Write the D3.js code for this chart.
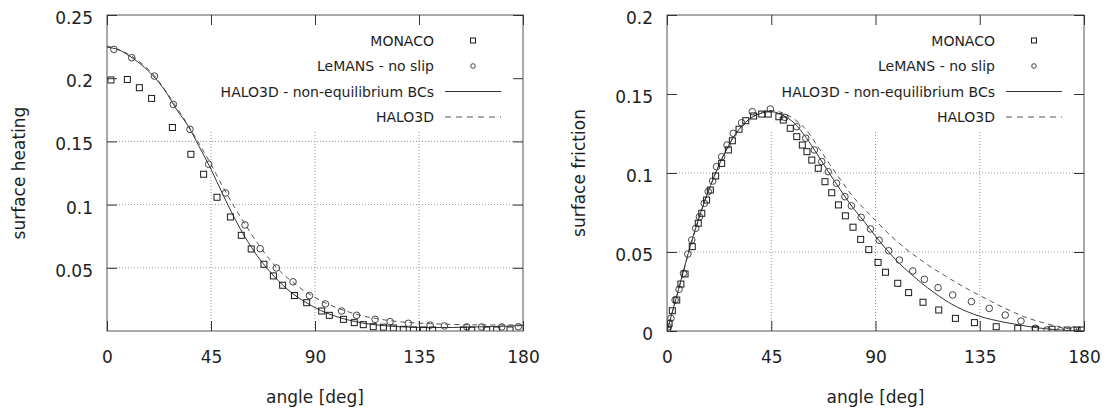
<!DOCTYPE html>
<html>
<head>
<meta charset="utf-8">
<script src="https://cdn.jsdelivr.net/npm/d3@7"></script>
<style>
  body { margin: 0; background: #fff; }
  svg text { font-family: "DejaVu Sans", sans-serif; fill: #1e1e1e; }
</style>
</head>
<body>
<div id="viz"></div>
<script>
const width = 1107;
const height = 410;
const plotTop = 15;
const plotBottom = 331;
const keyBottom = 131; // opaque key box hides the grid above this

// shared axis
const angleTicks = [0, 45, 90, 135, 180];
const gridAngles = [45, 90, 135];
const legendLabels = ['MONACO', 'LeMANS - no slip', 'HALO3D - non-equilibrium BCs', 'HALO3D'];

// left panel: surface heating
const heatTicks = [0.05, 0.1, 0.15, 0.2, 0.25];
const heatMonaco = [[1.7,0.1986],[8.8,0.199],[14,0.1925],[19.3,0.184],[28.3,0.161],[36.3,0.1398],[41.8,0.124],
  [47.6,0.1058],[53.4,0.0902],[58.1,0.0757],[62.4,0.0649],[67.9,0.0528],[72,0.0436],[76,0.0362],[81.1,0.0281],
  [86.4,0.0224],[92.9,0.0158],[96.2,0.0124],[102.3,0.0092],[107,0.0066],[110.9,0.005],[115.2,0.0034],
  [119.6,0.003],[123.9,0.0024],[128.2,0.0013],[132.6,0.0008],[136.9,0.0008],[140.9,0.0008],[154.2,0.0008],
  [157.8,0.0008],[164.3,0.0008],[168.6,0.0008],[174.4,0.0008]];
const heatLemans = [[3,0.2228],[10.7,0.2162],[20.5,0.2017],[28.7,0.1793],[35.9,0.1595],[44,0.1319],[51.3,0.1092],
  [59.7,0.0839],[66.3,0.0651],[73.3,0.0499],[80.5,0.0389],[87.6,0.028],[94.5,0.0214],[101.5,0.0158],[108,0.0124],
  [116,0.0092],[122.5,0.0074],[130.4,0.0061],[139.8,0.0047],[146,0.004],[155.7,0.0032],[162.1,0.0032],
  [170.8,0.0032],[178,0.0034]];
const heatHaloNeq = [[0,0.2245],[5,0.2225],[10,0.2172],[15,0.2105],[20,0.2018],[25,0.1905],[30,0.1755],[35,0.1625],
  [40,0.1455],[45,0.128],[50,0.1085],[55,0.09],[60,0.0735],[65,0.0595],[70,0.048],[75,0.0382],[80,0.03],
  [85,0.0238],[90,0.0185],[95,0.0142],[100,0.011],[110,0.0065],[120,0.0042],[130,0.0031],[140,0.0027],
  [150,0.0028],[160,0.0032],[170,0.0037],[180,0.0043]];
const heatHalo = [[0,0.2255],[10,0.2182],[20,0.2028],[30,0.1772],[40,0.1478],[45,0.1318],[50,0.1145],[55,0.0985],
  [60,0.0838],[65,0.0698],[70,0.0575],[75,0.047],[80,0.0392],[85,0.0322],[90,0.0265],[95,0.0218],[100,0.018],
  [105,0.0148],[110,0.0122],[120,0.0088],[130,0.0068],[140,0.0058],[150,0.0052],[165,0.0048],[180,0.0048]];

// right panel: surface friction
const fricTicks = [0, 0.05, 0.1, 0.15, 0.2];
const fricMonaco = [[0.3,0.0006],[0.9,0.0049],[2.3,0.0128],[4.2,0.0196],[6,0.0297],[7.8,0.0361],[10.9,0.0534],
  [13.5,0.0682],[15,0.0745],[17.1,0.0829],[18.7,0.0892],[21,0.0981],[23.6,0.1061],[26.5,0.1146],[28.2,0.1204],
  [31.1,0.1277],[34,0.1331],[37.4,0.1361],[40.9,0.1373],[43.7,0.1373],[48.3,0.1356],[50.2,0.1335],[53.2,0.1283],
  [56,0.123],[58.4,0.1177],[60.4,0.1135],[62.5,0.1082],[65.3,0.103],[68.2,0.0945],[71.1,0.0875],[74,0.0798],
  [77,0.0729],[80.3,0.0657],[83.6,0.058],[87.1,0.0515],[91.1,0.0434],[94.3,0.0372],[99.6,0.0302],[104.3,0.0243],
  [110.5,0.0182],[117.3,0.0133],[124.5,0.008],[132.7,0.0053],[142.1,0.0027],[151.4,0.0017],[159,0.0011],
  [166.2,0.0011],[172.7,0.0006],[177,0.0006],[178.9,0.0006]];
const fricLemans = [[0.6,0.0027],[1.7,0.008],[3.5,0.0196],[5.2,0.0264],[7.1,0.0365],[9,0.0487],[10.7,0.0576],
  [12.4,0.065],[14,0.0723],[16.1,0.0808],[17.8,0.0882],[19.7,0.0949],[21.4,0.104],[23.6,0.1103],[25.9,0.1177],
  [28.6,0.1251],[32.2,0.1318],[36.8,0.1388],[44.6,0.1405],[50.9,0.1352],[56,0.1293],[59.9,0.122],[63.6,0.1146],
  [66.8,0.1072],[69.6,0.1008],[73.2,0.0935],[76.8,0.085],[79.6,0.0792],[83.8,0.072],[87.8,0.0646],[91.6,0.0574],
  [95.7,0.0508],[100.3,0.0449],[106.1,0.038],[111.1,0.0327],[117,0.0274],[123.3,0.0228],[131.4,0.0186],
  [139.1,0.0143],[146,0.0101],[152.8,0.0063],[159,0.0017],[164,0.0006],[169.8,0.0002],[175.6,0.0006]];
const fricHaloNeq = [[0,0],[5,0.0265],[10,0.0535],[15,0.077],[20,0.0965],[25,0.113],[30,0.1255],[35,0.1335],
  [40,0.1375],[45,0.1388],[50,0.1365],[55,0.1315],[60,0.1225],[65,0.1115],[70,0.1],[75,0.089],[80,0.0785],
  [85,0.0695],[90,0.06],[95,0.0512],[100,0.0432],[105,0.0365],[110,0.0302],[115,0.0246],[120,0.0196],
  [125,0.0153],[130,0.012],[135,0.0093],[140,0.0073],[145,0.0057],[150,0.0044],[155,0.0031],[160,0.002],
  [165,0.0012],[170,0.0006],[175,0.0002],[180,0]];
const fricHalo = [[0,0],[5,0.026],[10,0.053],[15,0.0765],[20,0.0965],[25,0.113],[30,0.1255],[35,0.1335],
  [40,0.138],[45,0.1395],[50,0.138],[55,0.134],[60,0.1275],[65,0.117],[70,0.106],[75,0.0955],[80,0.0855],
  [85,0.0775],[90,0.07],[95,0.0625],[100,0.0558],[105,0.0498],[110,0.0445],[115,0.0395],[120,0.035],
  [125,0.0305],[130,0.0264],[135,0.0225],[140,0.0187],[145,0.015],[150,0.0116],[155,0.0086],[160,0.0062],
  [165,0.0042],[170,0.0025],[175,0.001],[180,0]];

const svg = d3.select('#viz')
  .append('svg')
    .attr('width', width)
    .attr('height', height)
    .attr('viewBox', [0, 0, width, height]);

const drawPanel = function (cfg) {
  const xScale = d3.scaleLinear().domain([0, 180]).range([cfg.left, cfg.right]);
  const yScale = d3.scaleLinear().domain([0, cfg.yMax]).range([plotBottom, plotTop]);
  const g = svg.append('g');

  // dotted grid
  g.selectAll('.vgrid')
    .data(gridAngles)
    .join('line')
      .attr('x1', d => xScale(d)).attr('x2', d => xScale(d))
      .attr('y1', plotBottom).attr('y2', plotTop)
      .attr('stroke', '#9a9a9a').attr('stroke-width', 1)
      .attr('stroke-dasharray', '1,2');
  g.selectAll('.hgrid')
    .data(cfg.yTicks.filter(d => d > 0 && d < cfg.yMax))
    .join('line')
      .attr('x1', cfg.left).attr('x2', cfg.right)
      .attr('y1', d => yScale(d)).attr('y2', d => yScale(d))
      .attr('stroke', '#9a9a9a').attr('stroke-width', 1)
      .attr('stroke-dasharray', '1,2');

  // opaque key box
  g.append('rect')
    .attr('x', cfg.left).attr('y', plotTop)
    .attr('width', cfg.right - cfg.left).attr('height', keyBottom - plotTop)
    .attr('fill', '#fff');

  const clipId = 'clip-' + cfg.name;
  g.append('clipPath').attr('id', clipId)
    .append('rect')
      .attr('x', cfg.left).attr('y', plotTop)
      .attr('width', cfg.right - cfg.left).attr('height', plotBottom - plotTop);
  const plot = g.append('g').attr('clip-path', `url(#${clipId})`);

  const line = d3.line()
    .x(d => xScale(d[0]))
    .y(d => yScale(d[1]))
    .curve(d3.curveMonotoneX);

  plot.append('path')
    .attr('d', line(cfg.halo))
    .attr('fill', 'none')
    .attr('stroke', '#555')
    .attr('stroke-width', 1)
    .attr('stroke-dasharray', '5,4');
  plot.append('path')
    .attr('d', line(cfg.haloNeq))
    .attr('fill', 'none')
    .attr('stroke', '#333')
    .attr('stroke-width', 1);

  plot.selectAll('.lemans')
    .data(cfg.lemans)
    .join('circle')
      .attr('cx', d => xScale(d[0]))
      .attr('cy', d => yScale(d[1]))
      .attr('r', 3.3)
      .attr('fill', 'none')
      .attr('stroke', '#444');
  plot.selectAll('.monaco')
    .data(cfg.monaco)
    .join('rect')
      .attr('x', d => xScale(d[0]) - 3)
      .attr('y', d => yScale(d[1]) - 3)
      .attr('width', 6).attr('height', 6)
      .attr('fill', 'none')
      .attr('stroke', '#1a1a1a');

  // frame
  g.append('rect')
    .attr('x', cfg.left).attr('y', plotTop)
    .attr('width', cfg.right - cfg.left).attr('height', plotBottom - plotTop)
    .attr('fill', 'none').attr('stroke', '#555').attr('stroke-width', 1);

  // axes, ticks pointing inward
  const fmt = d => String(d);
  const styleAxis = function (sel) {
    sel.select('.domain').remove();
    sel.selectAll('.tick line').attr('stroke', '#333');
    sel.attr('font-family', null).attr('font-size', '17px');
  };
  g.append('g')
    .attr('transform', `translate(0, ${plotBottom})`)
    .call(d3.axisBottom(xScale).tickValues(angleTicks).tickFormat(fmt).tickSize(-10).tickPadding(20))
    .call(styleAxis);
  g.append('g')
    .attr('transform', `translate(0, ${plotTop})`)
    .call(d3.axisTop(xScale).tickValues(angleTicks).tickSize(-10).tickFormat(''))
    .call(styleAxis);
  const yAxisGroup = g.append('g')
    .attr('transform', `translate(${cfg.left}, 0)`)
    .call(d3.axisLeft(yScale).tickValues(cfg.yTicks).tickFormat(fmt).tickSize(-10).tickPadding(14))
    .call(styleAxis);
  yAxisGroup.selectAll('.tick text').attr('dy', '0.5em');
  g.append('g')
    .attr('transform', `translate(${cfg.right}, 0)`)
    .call(d3.axisRight(yScale).tickValues(cfg.yTicks).tickSize(-10).tickFormat(''))
    .call(styleAxis);

  // axis titles
  g.append('text')
    .attr('x', (cfg.left + cfg.right) / 2)
    .attr('y', 403)
    .attr('text-anchor', 'middle')
    .style('font-size', '17px')
    .text('angle [deg]');
  g.append('text')
    .attr('transform', `translate(${cfg.left - 82}, ${(plotTop + plotBottom) / 2}) rotate(-90)`)
    .attr('text-anchor', 'middle')
    .style('font-size', '17px')
    .text(cfg.yLabel);

  // key
  const rowY = [40.5, 66, 91.5, 117];
  const textX = cfg.right - 89;
  const sampleX0 = cfg.right - 78;
  const sampleX1 = cfg.right - 22;
  const markX = cfg.right - 50;
  const key = g.append('g');
  key.selectAll('text')
    .data(legendLabels)
    .join('text')
      .attr('x', textX)
      .attr('y', (d, i) => rowY[i] + 5)
      .attr('text-anchor', 'end')
      .style('font-size', '14px')
      .text(d => d);
  key.append('rect')
    .attr('x', markX - 2.5).attr('y', rowY[0] - 2.5)
    .attr('width', 5).attr('height', 5)
    .attr('fill', 'none').attr('stroke', '#1a1a1a');
  key.append('circle')
    .attr('cx', markX).attr('cy', rowY[1])
    .attr('r', 2.3)
    .attr('fill', 'none').attr('stroke', '#444');
  key.append('line')
    .attr('x1', sampleX0).attr('x2', sampleX1)
    .attr('y1', rowY[2]).attr('y2', rowY[2])
    .attr('stroke', '#333');
  key.append('line')
    .attr('x1', sampleX0).attr('x2', sampleX1)
    .attr('y1', rowY[3]).attr('y2', rowY[3])
    .attr('stroke', '#555')
    .attr('stroke-dasharray', '6,5');
};

drawPanel({
  name: 'heat', left: 107, right: 523, yMax: 0.25, yTicks: heatTicks,
  yLabel: 'surface heating',
  monaco: heatMonaco, lemans: heatLemans, haloNeq: heatHaloNeq, halo: heatHalo
});
drawPanel({
  name: 'fric', left: 667, right: 1084, yMax: 0.2, yTicks: fricTicks,
  yLabel: 'surface friction',
  monaco: fricMonaco, lemans: fricLemans, haloNeq: fricHaloNeq, halo: fricHalo
});
</script>
</body>
</html>
